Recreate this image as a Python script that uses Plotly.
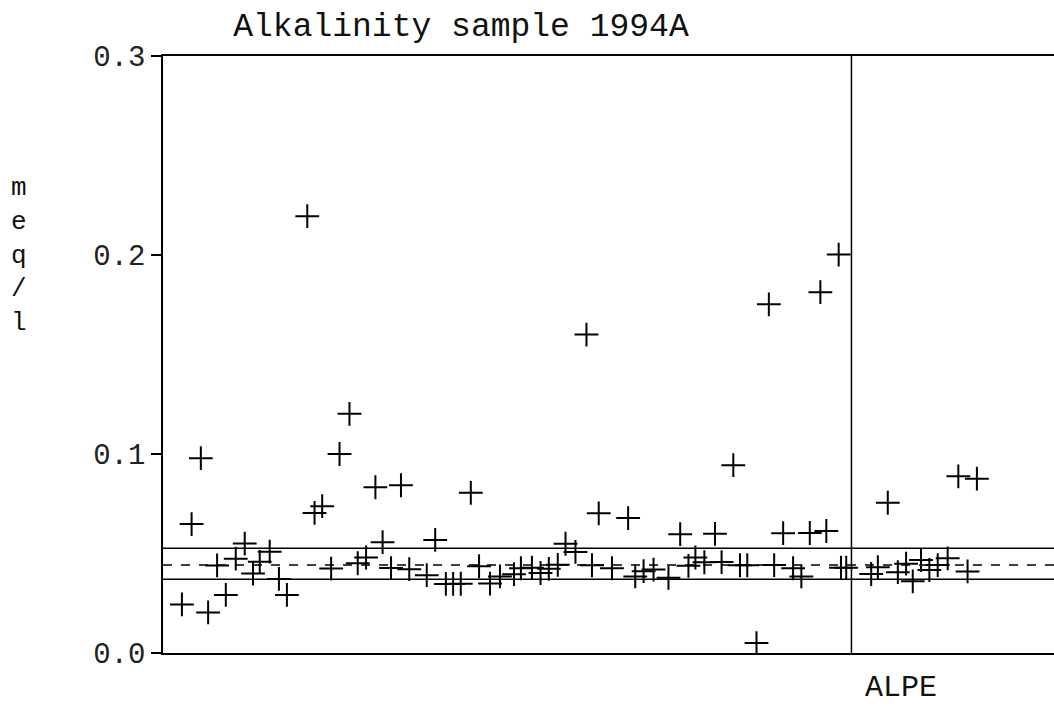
import plotly.graph_objects as go

# Lab positions (order along x) and alkalinity results (meq/l)
lab_pos = [2.13, 3.22, 4.26, 5.08, 6.09, 7.07, 8.19, 9.20, 10.13, 10.89,
           12.01, 13.05, 13.95, 16.24, 17.06, 17.92, 18.93, 19.87, 20.99, 21.92,
           22.86, 23.91, 24.72, 25.67, 26.79, 27.72, 29.69, 30.64, 31.84, 32.66,
           33.52, 34.65, 35.58, 36.81, 37.93, 39.51, 40.29, 41.53, 42.50, 43.43,
           44.44, 45.31, 46.43, 47.67, 48.29, 49.05, 50.54, 52.36, 53.16, 54.10,
           55.22, 56.90, 58.22, 59.15, 59.93, 60.94, 62.14, 62.88, 64.20, 64.95,
           65.77, 66.81, 68.20, 68.80, 69.81, 70.93, 71.86, 72.81, 74.00, 74.67,
           76.06, 76.32, 76.91,
           79.72, 80.47, 81.59, 82.72, 83.65, 84.40, 85.33, 86.27, 87.21, 88.33,
           89.53, 90.57, 91.62]
alk_values = [0.0244, 0.0648, 0.0979, 0.0204, 0.0440, 0.0292, 0.0474, 0.0550, 0.0399, 0.0458,
              0.0509, 0.0372, 0.0292, 0.2195, 0.0704, 0.0738, 0.0424, 0.1000, 0.1202, 0.0451,
              0.0480, 0.0833, 0.0557, 0.0427, 0.0843, 0.0421, 0.0391, 0.0568, 0.0347, 0.0347,
              0.0348, 0.0805, 0.0436, 0.0349, 0.0385, 0.0396, 0.0426, 0.0429, 0.0402, 0.0423,
              0.0443, 0.0549, 0.0508, 0.1600, 0.0441, 0.0702, 0.0426, 0.0678, 0.0385, 0.0411,
              0.0419, 0.0378, 0.0597, 0.0438, 0.0480, 0.0456, 0.0599, 0.0457, 0.0944, 0.0441,
              0.0441, 0.0050, 0.1752, 0.0442, 0.0602, 0.0426, 0.0385, 0.0603, 0.1813, 0.0613,
              0.2002, 0.0429, 0.0429,
              0.0397, 0.0431, 0.0755, 0.0406, 0.0449, 0.0360, 0.0467, 0.0417, 0.0442, 0.0476,
              0.0888, 0.0410, 0.0876]

# Reference band
true_value = 0.0442
upper_limit = 0.0527
lower_limit = 0.0370

# Group separator and group label
group_boundary = 77.5
group_label = "ALPE"
group_label_pos = 83.05

y_ticks = [0.0, 0.1, 0.2, 0.3]
y_ticktext = ["0.0", "0.1", "0.2", "0.3"]

MONO = "Liberation Mono, DejaVu Sans Mono, monospace"

W, H = 1054, 709
L, T, B = 163, 56, 56

fig = go.Figure()
fig.add_trace(go.Scatter(
    x=lab_pos, y=alk_values, mode="markers",
    marker=dict(symbol="cross-thin", size=17, color="black",
                line=dict(width=2, color="black")),
    showlegend=False, hoverinfo="x+y"))

fig.add_hline(y=upper_limit, line=dict(color="black", width=1.5))
fig.add_hline(y=lower_limit, line=dict(color="black", width=1.5))
fig.add_hline(y=true_value, line=dict(color="black", width=1.5, dash="dash"))
fig.add_vline(x=group_boundary, line=dict(color="black", width=1.5))

plot_h = H - T - B
fig.add_annotation(x=group_label_pos, xref="x", y=-(688 - (H - B)) / plot_h, yref="paper",
                   text=group_label, showarrow=False, yanchor="middle",
                   font=dict(family=MONO, size=30, color="#111"))

fig.add_annotation(x=(19 - L) / (W - L), xref="paper", xanchor="center",
                   y=((H - B) - 255) / plot_h, yref="paper", yanchor="middle",
                   text="m<br>e<br>q<br>/<br>l", showarrow=False,
                   font=dict(family=MONO, size=26, color="#111"))

fig.update_layout(
    width=W, height=H,
    margin=dict(l=L, r=0, t=T, b=B),
    paper_bgcolor="white", plot_bgcolor="white",
    title=dict(text="Alkalinity sample 1994A", x=461 / W, xanchor="center",
               y=1 - 24 / H, yanchor="middle", yref="container",
               font=dict(family=MONO, size=33, color="#111")),
    xaxis=dict(range=[0, 100.3], showgrid=False, zeroline=False,
               showline=True, linecolor="black", linewidth=1.5, mirror=True,
               showticklabels=False, ticks=""),
    yaxis=dict(range=[0, 0.3], showgrid=False, zeroline=False,
               showline=True, linecolor="black", linewidth=1.5,
               tickvals=y_ticks, ticktext=y_ticktext, ticks="outside",
               ticklen=10, tickwidth=1.5, tickcolor="black",
               tickfont=dict(family=MONO, size=29, color="#222")),
)

fig.write_html(
    "out.html",
    config={"displayModeBar": False},
    post_script="document.body.style.margin='0';document.body.style.overflow='hidden';",
)
